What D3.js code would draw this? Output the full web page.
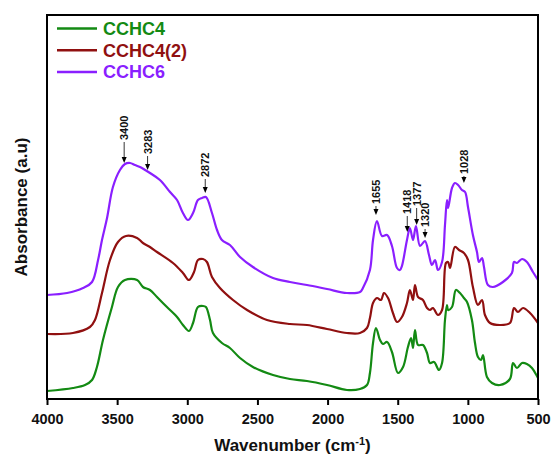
<!DOCTYPE html>
<html>
<head>
<meta charset="utf-8">
<script src="https://cdn.jsdelivr.net/npm/d3@7"></script>
<style>
  body { margin: 0; background: #fff; }
  svg { display: block; font-family: "Liberation Sans", Arial, sans-serif; font-weight: bold; }
</style>
</head>
<body>
<svg width="551" height="456"></svg>
<script>
// series names & colours
var seriesNames = ["CCHC4", "CCHC4(2)", "CCHC6"];
var seriesColors = ["#138a13", "#901010", "#8a1fff"];

// CCHC4 (green)
var wnCCHC4 = [4000, 3815, 3729, 3679, 3644, 3601, 3537, 3494, 3444, 3358, 3316, 3266, 3216, 3145, 3073, 3031, 2988, 2959, 2924, 2888, 2867, 2838, 2817, 2753, 2696, 2624, 2532, 2389, 2268, 2147, 2004, 1862, 1769, 1719, 1698, 1676, 1655, 1626, 1605, 1576, 1541, 1498, 1462, 1427, 1405, 1391, 1377, 1355, 1320, 1291, 1270, 1241, 1206, 1184, 1163, 1149, 1141, 1113, 1085, 1056, 1028, 1006, 971, 949, 928, 906, 892, 864, 828, 771, 700, 678, 650, 614, 579, 543, 500];
var absCCHC4 = [8, 11, 14, 19, 32, 59, 92, 112, 119, 119, 112, 109, 102, 92, 82, 74, 68, 76, 92, 93, 92, 79, 66, 56, 51, 41, 32, 24, 20, 18, 14, 9, 10, 14, 26, 56, 71, 59, 55, 57, 47, 26, 32, 52, 61, 51, 69, 54, 54, 46, 36, 37, 29, 36, 79, 94, 89, 92, 109, 106, 101, 97, 79, 56, 42, 39, 44, 22, 16, 14, 20, 36, 31, 36, 35, 31, 21];

// CCHC4(2) (dark red)
var wnCCHC42 = [4000, 3815, 3694, 3658, 3608, 3551, 3494, 3437, 3358, 3316, 3266, 3216, 3102, 3031, 2988, 2952, 2924, 2888, 2860, 2824, 2767, 2674, 2574, 2432, 2268, 2147, 2004, 1862, 1769, 1719, 1698, 1676, 1648, 1619, 1598, 1569, 1534, 1505, 1470, 1434, 1413, 1391, 1377, 1355, 1320, 1291, 1270, 1249, 1213, 1184, 1156, 1141, 1127, 1092, 1063, 1028, 999, 964, 928, 899, 878, 842, 771, 700, 671, 643, 607, 557, 500];
var absCCHC42 = [65, 66, 72, 79, 106, 139, 157, 163, 161, 156, 152, 147, 136, 126, 119, 127, 139, 140, 137, 122, 111, 99, 89, 79, 75, 74, 70, 66, 66, 71, 81, 96, 101, 99, 106, 101, 86, 77, 82, 96, 109, 99, 114, 102, 99, 91, 89, 91, 84, 89, 136, 137, 131, 152, 149, 146, 139, 112, 94, 99, 84, 76, 74, 76, 91, 87, 91, 86, 76];

// CCHC6 (purple)
var wnCCHC6 = [4000, 3857, 3743, 3679, 3636, 3608, 3572, 3530, 3480, 3444, 3408, 3373, 3337, 3301, 3266, 3195, 3123, 3073, 3031, 2995, 2959, 2924, 2895, 2867, 2824, 2788, 2753, 2696, 2624, 2532, 2389, 2268, 2147, 2004, 1862, 1769, 1748, 1698, 1676, 1648, 1612, 1576, 1541, 1505, 1484, 1470, 1434, 1413, 1391, 1370, 1341, 1306, 1277, 1256, 1234, 1213, 1184, 1163, 1149, 1141, 1113, 1092, 1070, 1042, 1020, 999, 964, 935, 921, 899, 885, 857, 821, 750, 686, 671, 650, 614, 579, 536, 500];
var absCCHC6 = [104, 106, 111, 117, 139, 159, 181, 212, 229, 235, 236, 234, 232, 229, 226, 219, 207, 199, 186, 179, 186, 199, 201, 202, 186, 169, 159, 154, 142, 132, 121, 117, 114, 110, 106, 107, 111, 129, 159, 178, 163, 164, 153, 131, 129, 133, 159, 171, 159, 173, 153, 158, 144, 134, 139, 129, 137, 174, 199, 191, 211, 216, 214, 209, 207, 192, 164, 147, 137, 141, 132, 114, 112, 117, 126, 137, 136, 140, 137, 127, 119];

var xTicks = [4000, 3500, 3000, 2500, 2000, 1500, 1000, 500];

// peak annotations: label, wavenumber where the arrow sits, absorbance level of arrow tip
var peakLabels = ["3400", "3283", "2872", "1655", "1418", "1377", "1320", "1028"];
var peakWn = [3450, 3283, 2872, 1655, 1432, 1365, 1305, 1028];
var peakAbs = [236, 229, 206, 184, 167, 174, 161, 216];
// arrow length (layout)
var arrowLen = [22, 15, 15, 10, 17, 18, 10, 8];

var allWn = [wnCCHC4, wnCCHC42, wnCCHC6];
var allAbs = [absCCHC4, absCCHC42, absCCHC6];

var margin = {left: 47, right: 13, top: 15, bottom: 57};
var W = 551, H = 456;
var plotW = W - margin.left - margin.right;
var plotH = H - margin.top - margin.bottom;

var svg = d3.select("svg");
var g = svg.append("g").attr("transform", "translate(" + margin.left + "," + margin.top + ")");

var x = d3.scaleLinear().domain([4000, 500]).range([0, plotW]);
var y = d3.scaleLinear().domain([0, 384]).range([plotH, 0]);

g.append("clipPath").attr("id", "clip")
    .append("rect").attr("width", plotW).attr("height", plotH);

var line = d3.line()
    .x(function (d) { return x(d[0]); })
    .y(function (d) { return y(d[1]); })
    .curve(d3.curveCatmullRom.alpha(0.5));

var curves = g.append("g").attr("clip-path", "url(#clip)");
for (var s = 0; s < 3; s++) {
    var pts = allWn[s].map(function (w, i) { return [w, allAbs[s][i]]; });
    curves.append("path")
        .datum(pts)
        .attr("d", line)
        .attr("fill", "none")
        .attr("stroke", seriesColors[s])
        .attr("stroke-width", 2.2)
        .attr("stroke-linejoin", "round");
}

// frame
g.append("rect")
    .attr("width", plotW).attr("height", plotH)
    .attr("fill", "none").attr("stroke", "#000").attr("stroke-width", 2);

// x axis
var xAxis = g.append("g")
    .attr("transform", "translate(0," + plotH + ")")
    .call(d3.axisBottom(x).tickValues(xTicks).tickSize(6).tickPadding(9).tickFormat(d3.format("d")));
xAxis.select(".domain").remove();
xAxis.selectAll("line").attr("stroke", "#000").attr("stroke-width", 2);
xAxis.selectAll("text")
    .attr("fill", "#111")
    .style("font-size", "14.5px")
    .style("font-family", "'Liberation Sans', Arial, sans-serif")
    .style("font-weight", "bold");

// axis titles
var xt = svg.append("text")
    .attr("x", margin.left + plotW / 2)
    .attr("y", 451)
    .attr("text-anchor", "middle")
    .style("font-size", "17px")
    .attr("fill", "#111");
xt.append("tspan").text("Wavenumber (cm");
xt.append("tspan").attr("dy", -6).style("font-size", "11px").text("-1");
xt.append("tspan").attr("dy", 6).text(")");

svg.append("text")
    .attr("transform", "translate(27,207) rotate(-90)")
    .attr("text-anchor", "middle")
    .style("font-size", "17px")
    .attr("fill", "#111")
    .text("Absorbance (a.u)");

// legend
var leg = g.append("g");
seriesNames.forEach(function (name, i) {
    var ly = 13.5 + i * 21.7;
    leg.append("line")
        .attr("x1", 10).attr("x2", 50)
        .attr("y1", ly).attr("y2", ly)
        .attr("stroke", seriesColors[i]).attr("stroke-width", 2.5);
    leg.append("text")
        .attr("x", 56).attr("y", ly)
        .attr("dy", "0.36em")
        .style("font-size", "18px")
        .attr("fill", seriesColors[i])
        .text(name);
});

// peak annotations
var ann = g.append("g");
peakLabels.forEach(function (lab, i) {
    var px = x(peakWn[i]);
    var tip = y(peakAbs[i]);
    var bottom = tip - arrowLen[i];
    ann.append("line")
        .attr("x1", px).attr("x2", px)
        .attr("y1", bottom + 1).attr("y2", tip - 4)
        .attr("stroke", "#000").attr("stroke-width", 0.8);
    ann.append("path")
        .attr("d", "M" + (px - 2.5) + "," + (tip - 6) + "L" + (px + 2.5) + "," + (tip - 6) + "L" + px + "," + tip + "Z")
        .attr("fill", "#000");
    ann.append("text")
        .attr("transform", "translate(" + px + "," + (bottom - 1) + ") rotate(-90)")
        .attr("dy", "0.36em")
        .style("font-size", "11px")
        .attr("fill", "#111")
        .text(lab);
});
</script>
</body>
</html>
